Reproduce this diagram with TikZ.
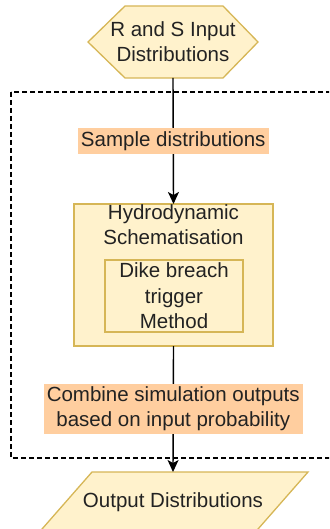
\documentclass[tikz,border=0pt]{standalone}
\usepackage{fontspec}
\setmainfont{Liberation Sans}
\usetikzlibrary{arrows.meta,backgrounds}
\definecolor{yfill}{HTML}{FFF2CC}
\definecolor{ydraw}{HTML}{D6B656}
\definecolor{ofill}{HTML}{FFCE9F}
\definecolor{txt}{HTML}{222222}
\begin{document}
\begin{tikzpicture}[x=1pt,y=-1pt,
  every node/.style={outer sep=0pt,text=txt,font=\fontsize{20.5}{25}\selectfont},
  anchorbox/.style={inner sep=0pt,align=center},
  yshape/.style={fill=yfill,draw=ydraw,line width=1.3pt},
  lbl/.style={fill=ofill,inner xsep=3pt,inner ysep=3.25pt,text height=15pt,text depth=4.5pt},
  lbltwo/.style={fill=ofill,inner xsep=3pt,inner ysep=3.4pt,align=center},
  arr/.style={line width=1.4pt,-{Stealth[length=12pt,width=11pt,inset=3pt]}},
  dashbox/.style={line width=1.4pt,dash pattern=on 5pt off 3pt}]
\useasboundingbox (0,0) rectangle (329,529);
\clip (0,0) rectangle (329,529);
% dashed container
\draw[dashbox] (11,92) rectangle (345,458);
% nodes
\node[anchorbox,minimum width=170pt,minimum height=72pt] (inp) at (173,42) {R and S Input\\Distributions};
\node[yshape,inner sep=0pt,minimum width=199pt,minimum height=142pt] (hyd) at (173.5,275) {};
\node[anchorbox] (hydtxt) at (173.5,224.5) {Hydrodynamic\\Schematisation};
\node[yshape,inner sep=0pt,minimum width=138pt,minimum height=72pt,align=center,font=\fontsize{20.5}{25.5}\selectfont] (dike) at (174,296) {Dike breach\\trigger\\Method};
\node[anchorbox,minimum width=216pt,minimum height=60pt] (out) at (173,502) {Output Distributions};
\begin{scope}[on background layer]
  \draw[yshape] (125,6) -- (223,6) -- (258,42) -- (223,78) -- (125,78) -- (88,42) -- cycle;
  \draw[yshape] (92,472) -- (308,472) -- (248.4,540) -- (32.4,540) -- cycle;
\end{scope}
% connectors
\draw[arr] (inp.south) -- node[lbl]{Sample distributions} (hyd.north);
\draw[arr] (hyd.south) -- node[lbltwo]{Combine simulation outputs\\based on input probability} (out.north);
\end{tikzpicture}
\end{document}
